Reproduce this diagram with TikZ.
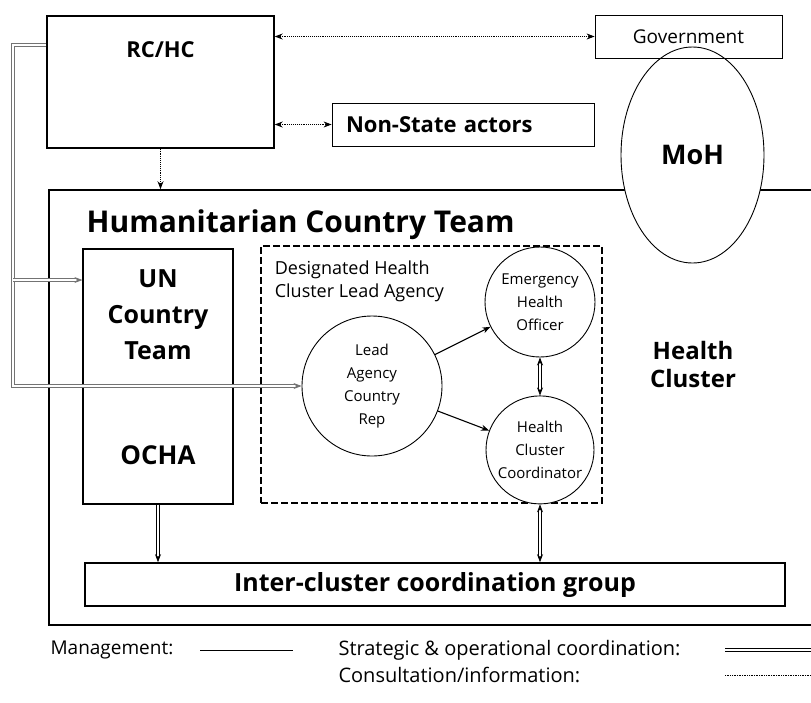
\documentclass[tikz,border=0pt]{standalone}
\usepackage{fontspec}
\setmainfont{Open Sans}
\usepackage{tikz}
\usetikzlibrary{arrows.meta}
\usetikzlibrary{shapes.geometric}
\usetikzlibrary {positioning}
\tikzset{box node/.style={rectangle,draw,fill=white,inner sep=0pt}}
\tikzset{role node/.style={circle,draw,fill=white,line width=0.9pt,inner sep=0pt,align=center,font=\fontsize{15}{23}\selectfont}}
\tikzset{mgmt line/.style={line width=1.1pt}}
\tikzset{strat line/.style={double,double distance=2.4pt,line width=0.7pt}}
\tikzset{info line/.style={densely dotted,line width=0.9pt}}

\begin{document}
\begin{tikzpicture}[x=1pt,y=-1pt,>={Stealth[length=8pt,width=6pt]}]
    \useasboundingbox (0,0) rectangle (811,702);

    % team box runs off the right side of the page
    \node[box node,line width=1.6pt,minimum width=800pt,minimum height=435pt,
        label={[anchor=north west,xshift=35pt,yshift=-17pt,font=\bfseries\fontsize{30}{36}\selectfont]north west:Humanitarian Country Team}] (hct) at (449,407.5) {};
    \node[box node,line width=1.4pt,minimum width=227pt,minimum height=132pt,
        label={[anchor=north,yshift=-23pt,font=\bfseries\fontsize{22}{26}\selectfont]north:RC/HC}] (rc) at (160.5,82) {};
    \node[box node,line width=0.8pt,minimum width=262pt,minimum height=43pt,text width=234pt,inner xsep=14pt,align=left,
        font=\bfseries\fontsize{22}{26}\selectfont] (nsa) at (463,124.5) {Non-State actors};
    \node[ellipse,draw,fill=white,line width=0.9pt,minimum width=143pt,minimum height=216pt,inner sep=0pt,
        font=\bfseries\fontsize{27}{32}\selectfont] (moh) at (692.5,155) {MoH};
    \node[box node,fill=none,line width=0.8pt,minimum width=187pt,minimum height=43pt,
        font=\fontsize{19}{23}\selectfont] (gov) at (688.5,36.5) {Government};

    \node[box node,line width=1.2pt,minimum width=150pt,minimum height=255pt,
        label={[anchor=north,yshift=-18pt,align=center,font=\bfseries\fontsize{25}{36}\selectfont]north:{UN\\Country\\Team}},
        label={[anchor=south,yshift=36pt,font=\bfseries\fontsize{26}{30}\selectfont]south:OCHA}] (un) at (158,376.5) {};
    \node[box node,dash pattern=on 7pt off 3pt,line width=1.4pt,minimum width=341pt,minimum height=257pt,
        label={[anchor=north west,xshift=11pt,yshift=-12pt,align=left,font=\fontsize{18}{23}\selectfont]north west:{Designated Health\\Cluster Lead Agency}}] (dha) at (431.5,374.5) {};

    \node[role node,minimum size=140pt] (lead) at (372,386) {Lead\\Agency\\Country\\Rep};
    \node[role node,minimum size=110pt] (eho) at (540,302) {Emergency\\Health\\Officer};
    \node[role node,minimum size=108pt] (hcc) [below = 38pt of eho] {Health\\Cluster\\Coordinator};

    \node[align=center,font=\bfseries\fontsize{24}{28}\selectfont] (hcl) at (693,364) {Health\\Cluster};
    \node[box node,line width=1.6pt,minimum width=700pt,minimum height=43pt,
        font=\bfseries\fontsize{25}{30}\selectfont] (icg) at (435,584.5) {Inter-cluster coordination group};

    % consultation links of the RC/HC
    \draw[info line,<->] (rc.east |- gov) -- (gov);
    \draw[info line,<->] (rc.east |- nsa) -- (nsa);
    \draw[info line,->] (rc.south) -- (rc.south |- hct.north);

    % route along the left margin
    \coordinate (c_{1}) at (13,45);
    \coordinate (c_{2}) at (13,280);
    \coordinate (c_{3}) at (13,386);
    \draw[strat line,draw=black!55,->] (rc.west |- c_{1}) -- (c_{1}) -- (c_{3}) -- (lead);
    \draw[strat line,draw=black!55,->] (c_{2}) -- (c_{2} -| un.west);

    \path [->,mgmt line]
    (lead) edge (eho)
    (lead) edge (hcc);
    \draw[strat line,<->] (eho) -- (hcc);
    \draw[strat line,<->] (hcc.south) -- (hcc.south |- icg.north);
    \draw[strat line,->] (un.south) -- (un.south |- icg.north);

    % key
    \node[anchor=west,font=\fontsize{19}{23}\selectfont] (k_{1}) at (47,650) {Management:};
    \node[anchor=west,font=\fontsize{20}{24}\selectfont] (k_{2}) at (335,650) {Strategic \& operational coordination:};
    \node[anchor=west,font=\fontsize{20}{24}\selectfont] (k_{3}) at (335,675) {Consultation/information:};
    \coordinate (s_{1}) at (200,650);
    \coordinate (s_{2}) at (293,650);
    \coordinate (s_{3}) at (725,650);
    \coordinate (s_{4}) at (815,650);
    \coordinate (s_{5}) at (725,675);
    \coordinate (s_{6}) at (815,675);
    \draw[line width=0.9pt] (s_{1}) -- (s_{2});
    \draw[strat line] (s_{3}) -- (s_{4});
    \draw[info line,line width=0.7pt] (s_{5}) -- (s_{6});
\end{tikzpicture}
\end{document}
